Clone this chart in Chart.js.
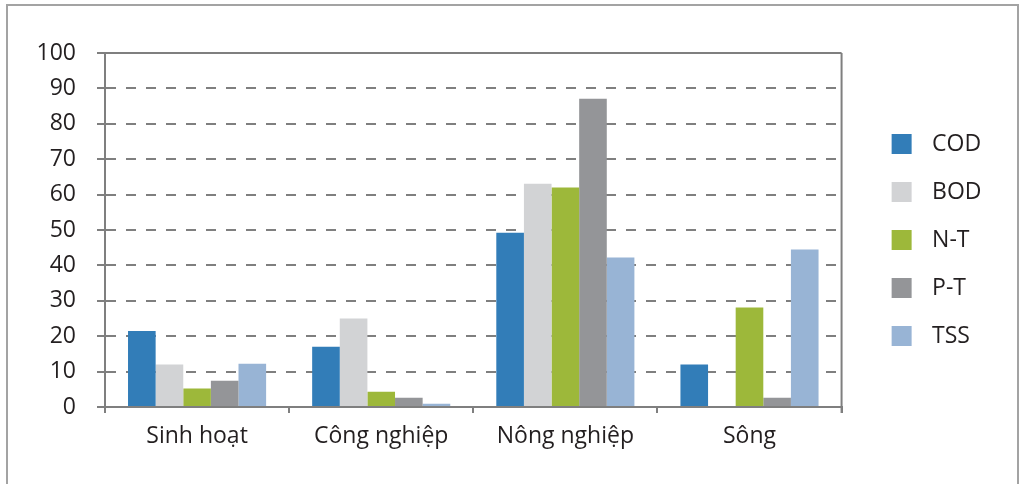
<!DOCTYPE html>
<html>
<head>
<meta charset="utf-8">
<script src="https://cdn.jsdelivr.net/npm/chart.js@4"></script>
<style>
  html, body { margin: 0; padding: 0; background: #fff; overflow: hidden; }
  #frame { position: absolute; left: 6px; top: 4px; width: 1013px; height: 600px; border: 2px solid #a3a3a3; box-sizing: border-box; }
  #myChart { position: absolute; left: 0; top: 0; }
</style>
</head>
<body>
<div id="frame"></div>
<canvas id="myChart" width="1019" height="484"></canvas>
<script>
const categories = ["Sinh hoạt", "Công nghiệp", "Nông nghiệp", "Sông"];
const seriesNames = ["COD", "BOD", "N-T", "P-T", "TSS"];
const cod = [21.5, 17.0, 49.2, 12.0];
const bod = [12.0, 25.0, 63.1, 0];
const nt = [5.2, 4.3, 62.0, 28.1];
const pt = [7.4, 2.6, 87.1, 2.6];
const tss = [12.2, 0.9, 42.2, 44.5];
const yTicks = [0, 10, 20, 30, 40, 50, 60, 70, 80, 90, 100];

const colors = ["#327db8", "#d2d3d5", "#9db83a", "#949598", "#98b4d5"];
const textColor = "#231f20";
const lineColor = "#7f7f7f";

Chart.defaults.font.family = "'Open Sans', sans-serif";

// legend swatch: square drawn inside a wider image so the text sits further right
function swatch(color) {
  const c = document.createElement("canvas");
  c.width = 54;
  c.height = 20;
  const g = c.getContext("2d");
  g.fillStyle = color;
  g.fillRect(25, 0, 20, 20);
  return c;
}

// solid top / right / bottom lines of the plot box
const boxLines = {
  id: "boxLines",
  afterDraw(chart) {
    const { ctx, chartArea: a } = chart;
    ctx.save();
    ctx.strokeStyle = lineColor;
    ctx.lineWidth = 2;
    ctx.beginPath();
    ctx.moveTo(a.left - 8, a.top);
    ctx.lineTo(a.right, a.top);
    ctx.moveTo(a.right, a.top);
    ctx.lineTo(a.right, a.bottom + 6);
    ctx.moveTo(a.left - 8, a.bottom);
    ctx.lineTo(a.right, a.bottom);
    ctx.stroke();
    ctx.restore();
  },
};

const seriesData = [cod, bod, nt, pt, tss];

const ctx1 = document.getElementById("myChart").getContext("2d");
const myChart = new Chart(ctx1, {
  type: "bar",
  data: {
    labels: categories,
    datasets: seriesNames.map((name, i) => ({
      label: name,
      data: seriesData[i],
      backgroundColor: colors[i],
      borderWidth: 0,
      barPercentage: 1,
      categoryPercentage: 0.75,
    })),
  },
  options: {
    responsive: false,
    animation: false,
    layout: { padding: { top: 53, right: 27.5, bottom: 0, left: 0 } },
    scales: {
      x: {
        afterFit(scale) { scale.height = 77; },
        grid: {
          drawOnChartArea: false,
          color: lineColor,
          lineWidth: 2,
          tickLength: 6,
        },
        border: { color: lineColor, width: 2 },
        ticks: {
          color: textColor,
          padding: 10,
          font: { size: 23 },
        },
      },
      y: {
        min: 0,
        max: 100,
        afterFit(scale) { scale.width = 105; },
        afterBuildTicks(scale) { scale.ticks = yTicks.map(v => ({ value: v })); },
        grid: {
          color: lineColor,
          lineWidth: 2,
          tickLength: 8,
        },
        border: { color: lineColor, width: 2, dash: [10, 10] },
        ticks: {
          color: textColor,
          padding: 21,
          font: { size: 23 },
        },
      },
    },
    plugins: {
      legend: {
        position: "right",
        align: "start",
        title: { display: true, text: "", font: { size: 10, lineHeight: 1 }, padding: 22.3 },
        labels: {
          usePointStyle: true,
          pointStyleWidth: 54,
          boxHeight: 20,
          padding: 25,
          color: textColor,
          font: { size: 23 },
          generateLabels(chart) {
            return chart.data.datasets.map((ds, i) => ({
              text: ds.label,
              fillStyle: ds.backgroundColor,
              strokeStyle: ds.backgroundColor,
              lineWidth: 0,
              pointStyle: swatch(ds.backgroundColor),
              fontColor: textColor,
              hidden: false,
              datasetIndex: i,
            }));
          },
        },
      },
      tooltip: { enabled: false },
    },
  },
  plugins: [boxLines],
});
</script>
</body>
</html>
